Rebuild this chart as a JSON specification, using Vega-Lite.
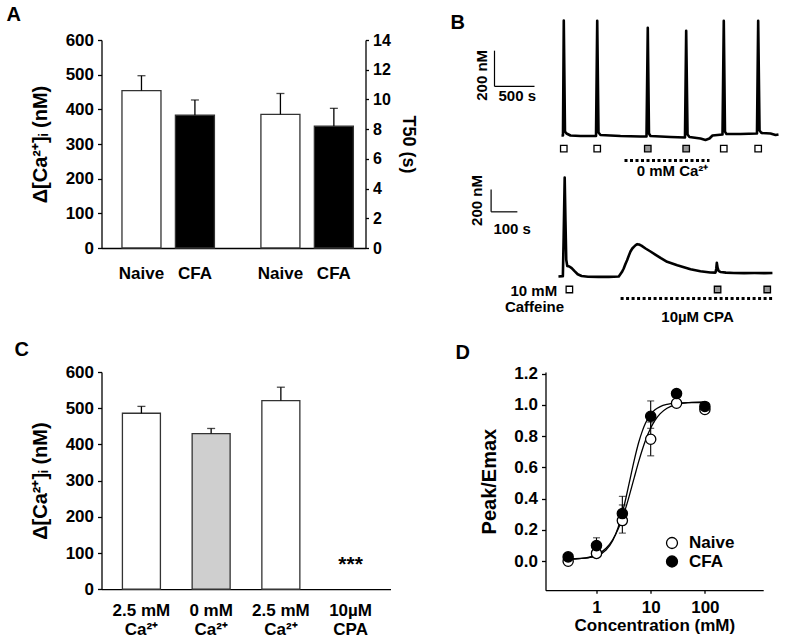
{
  "$schema": "https://vega.github.io/schema/vega-lite/v6.json",
  "background": "white",
  "padding": {"left": 6.5, "top": 5, "right": 5, "bottom": 5},
  "columns": 2,
  "bounds": "flush",
  "spacing": {"row": 124, "column": 155},
  "resolve": {"scale": {"fill": "independent"}, "legend": {"fill": "independent"}},
  "config": {
    "font": "Liberation Sans",
    "view": {"stroke": null},
    "axis": {
      "domainColor": "black", "domainWidth": 1.3, "tickColor": "black", "tickWidth": 1.3, "tickSize": 4,
      "labelColor": "black", "labelFont": "Liberation Sans", "labelFontWeight": "bold", "labelFontSize": 17, "labelPadding": 4,
      "titleColor": "black", "titleFont": "Liberation Sans", "titleFontWeight": "bold", "titleFontSize": 20,
      "grid": false
    },
    "title": {"fontSize": 20, "fontWeight": "bold", "font": "Liberation Sans", "color": "black", "anchor": "start", "frame": "group"},
    "legend": {"labelFont": "Liberation Sans"}
  },
  "concat": [
    {
      "width": 264, "height": 208,
      "title": {"text": "A", "dx": -95, "dy": -2},
      "data": {"values": [
        {"measure": "Ca", "group": "Naive", "value": 454, "upper": 497},
        {"measure": "Ca", "group": "CFA", "value": 383, "upper": 427},
        {"measure": "T50", "group": "Naive", "value": 9.0, "upper": 10.4},
        {"measure": "T50", "group": "CFA", "value": 8.2, "upper": 9.4}
      ]},
      "encoding": {
        "x": {"field": "measure", "type": "nominal", "sort": ["Ca", "T50"],
              "scale": {"paddingInner": 0.3, "paddingOuter": 0.1, "align": 0.65},
              "axis": {"labels": false, "ticks": false, "title": null}},
        "xOffset": {"field": "group", "type": "nominal", "sort": ["Naive", "CFA"],
                    "scale": {"paddingInner": 0.27, "paddingOuter": 0.045}}
      },
      "layer": [
        {
          "transform": [{"filter": "datum.measure === 'Ca'"}],
          "encoding": {
            "y": {"field": "value", "type": "quantitative", "title": "Δ[Ca²⁺]ᵢ (nM)",
                  "scale": {"domain": [0, 600]},
                  "axis": {"orient": "left", "values": [0, 100, 200, 300, 400, 500, 600], "titlePadding": 15}}
          },
          "layer": [
            {"mark": {"type": "bar", "stroke": "#333333", "strokeWidth": 1.3},
             "encoding": {"fill": {"field": "group", "type": "nominal", "scale": {"domain": ["Naive", "CFA"], "range": ["white", "black"]}, "legend": null}}},
            {"mark": {"type": "rule", "color": "black", "strokeWidth": 1.3},
             "encoding": {"y2": {"field": "upper"}}},
            {"mark": {"type": "tick", "color": "black", "orient": "horizontal", "size": 8, "thickness": 1.3},
             "encoding": {"y": {"field": "upper", "type": "quantitative", "title": "Δ[Ca²⁺]ᵢ (nM)"}}},
            {"mark": {"type": "text", "baseline": "top", "dy": 17.5, "fontSize": 17, "fontWeight": "bold", "font": "Liberation Sans", "color": "black"},
             "encoding": {"y": {"datum": 0}, "text": {"field": "group"}}}
          ]
        },
        {
          "transform": [{"filter": "datum.measure === 'T50'"}],
          "encoding": {
            "y": {"field": "value", "type": "quantitative", "title": "T50 (s)",
                  "scale": {"domain": [0, 14]},
                  "axis": {"orient": "right", "values": [0, 2, 4, 6, 8, 10, 12, 14], "labelFontSize": 16, "titleFontSize": 18, "tickSize": 3, "titlePadding": 8}}
          },
          "layer": [
            {"mark": {"type": "bar", "stroke": "#333333", "strokeWidth": 1.3},
             "encoding": {"fill": {"field": "group", "type": "nominal", "scale": {"domain": ["Naive", "CFA"], "range": ["white", "black"]}, "legend": null}}},
            {"mark": {"type": "rule", "color": "black", "strokeWidth": 1.3},
             "encoding": {"y2": {"field": "upper"}}},
            {"mark": {"type": "tick", "color": "black", "orient": "horizontal", "size": 8, "thickness": 1.3},
             "encoding": {"y": {"field": "upper", "type": "quantitative", "title": "T50 (s)"}}},
            {"mark": {"type": "text", "baseline": "top", "dy": 17.5, "fontSize": 17, "fontWeight": "bold", "font": "Liberation Sans", "color": "black"},
             "encoding": {"y": {"datum": 0}, "text": {"field": "group"}}}
          ]
        }
      ],
      "resolve": {"scale": {"y": "independent"}}
    },
    {
      "width": 233, "height": 208,
      "title": {"text": "B", "dx": -95, "dy": 18},
      "layer": [
        {
          "layer": [
            {"data": {"values": [
              {"t": 512, "v": 100}, {"t": 531, "v": 100}, {"t": 541, "v": 744}, {"t": 556, "v": 122}, {"t": 575, "v": 111},
              {"t": 625, "v": 100}, {"t": 750, "v": 97}, {"t": 944, "v": 97}, {"t": 959, "v": 742}, {"t": 975, "v": 117},
              {"t": 1000, "v": 103}, {"t": 1250, "v": 97}, {"t": 1500, "v": 94}, {"t": 1575, "v": 94}, {"t": 1591, "v": 703},
              {"t": 1606, "v": 111}, {"t": 1625, "v": 97}, {"t": 1875, "v": 92}, {"t": 2056, "v": 89}, {"t": 2071, "v": 686},
              {"t": 2088, "v": 106}, {"t": 2112, "v": 92}, {"t": 2250, "v": 83}, {"t": 2312, "v": 75}, {"t": 2362, "v": 83},
              {"t": 2400, "v": 100}, {"t": 2525, "v": 106}, {"t": 2541, "v": 742}, {"t": 2556, "v": 122}, {"t": 2575, "v": 108},
              {"t": 2750, "v": 108}, {"t": 2956, "v": 111}, {"t": 2971, "v": 742}, {"t": 2988, "v": 128}, {"t": 3012, "v": 114},
              {"t": 3125, "v": 111}, {"t": 3188, "v": 103}, {"t": 3225, "v": 106}
            ]},
             "mark": {"type": "line", "color": "black", "strokeWidth": 2.6, "strokeJoin": "round"},
             "encoding": {
               "x": {"field": "t", "type": "quantitative", "scale": {"domain": [312.5, 3225]}, "axis": null},
               "y": {"field": "v", "type": "quantitative", "scale": {"domain": [-530, 634.8]}, "axis": null}
             }},
            {"data": {"values": [
              {"x1": -325, "x2": -325, "y1": 375, "y2": 575},
              {"x1": -325, "x2": 175, "y1": 375, "y2": 375}
            ]},
             "mark": {"type": "rule", "color": "black", "strokeWidth": 1.2},
             "encoding": {
               "x": {"field": "x1", "type": "quantitative", "scale": {"domain": [312.5, 3225]}, "axis": null},
               "x2": {"field": "x2"},
               "y": {"field": "y1", "type": "quantitative", "scale": {"domain": [-530, 634.8]}, "axis": null},
               "y2": {"field": "y2"}
             }},
            {"data": {"values": [{"x1": 1300, "x2": 2362, "y1": -40}]},
             "mark": {"type": "rule", "color": "black", "strokeWidth": 3, "strokeDash": [3, 2.5]},
             "encoding": {
               "x": {"field": "x1", "type": "quantitative", "scale": {"domain": [312.5, 3225]}, "axis": null},
               "x2": {"field": "x2"},
               "y": {"field": "y1", "type": "quantitative", "scale": {"domain": [-530, 634.8]}, "axis": null}
             }},
            {"data": {"values": [
              {"t": 541, "v": 27, "sol": "normal"}, {"t": 959, "v": 27, "sol": "normal"},
              {"t": 1591, "v": 27, "sol": "zero"}, {"t": 2071, "v": 27, "sol": "zero"},
              {"t": 2541, "v": 27, "sol": "normal"}, {"t": 2971, "v": 27, "sol": "normal"}
            ]},
             "mark": {"type": "point", "shape": "square", "filled": true, "size": 42, "stroke": "black", "strokeWidth": 1.3, "opacity": 1},
             "encoding": {
               "x": {"field": "t", "type": "quantitative", "scale": {"domain": [312.5, 3225]}, "axis": null},
               "y": {"field": "v", "type": "quantitative", "scale": {"domain": [-530, 634.8]}, "axis": null},
               "fill": {"field": "sol", "type": "nominal", "scale": {"domain": ["normal", "zero"], "range": ["white", "#999999"]}, "legend": null}
             }},
            {"data": {"values": [
              {"t": -41, "v": 321, "label": "500 s"},
              {"t": 1900, "v": -101, "label": "0 mM Ca²⁺"}
            ]},
             "mark": {"type": "text", "fontSize": 15, "fontWeight": "bold", "font": "Liberation Sans", "color": "black", "baseline": "middle", "align": "center"},
             "encoding": {
               "x": {"field": "t", "type": "quantitative", "scale": {"domain": [312.5, 3225]}, "axis": null},
               "y": {"field": "v", "type": "quantitative", "scale": {"domain": [-530, 634.8]}, "axis": null},
               "text": {"field": "label"}
             }},
            {"data": {"values": [{"t": -487, "v": 437, "label": "200 nM"}]},
             "mark": {"type": "text", "angle": 270, "fontSize": 15, "fontWeight": "bold", "font": "Liberation Sans", "color": "black", "baseline": "middle", "align": "center"},
             "encoding": {
               "x": {"field": "t", "type": "quantitative", "scale": {"domain": [312.5, 3225]}, "axis": null},
               "y": {"field": "v", "type": "quantitative", "scale": {"domain": [-530, 634.8]}, "axis": null},
               "text": {"field": "label"}
             }}
          ]
        },
        {
          "layer": [
            {"data": {"values": [
              {"t": 146, "v": 100}, {"t": 163, "v": 103}, {"t": 166, "v": 450}, {"t": 170, "v": 991}, {"t": 173, "v": 600},
              {"t": 176, "v": 250}, {"t": 180, "v": 195}, {"t": 188, "v": 190}, {"t": 197, "v": 175}, {"t": 207, "v": 150},
              {"t": 220, "v": 120}, {"t": 235, "v": 105}, {"t": 260, "v": 98}, {"t": 300, "v": 97}, {"t": 340, "v": 97},
              {"t": 378, "v": 100}, {"t": 390, "v": 140}, {"t": 397, "v": 172}, {"t": 404, "v": 215}, {"t": 410, "v": 247},
              {"t": 417, "v": 290}, {"t": 423, "v": 325}, {"t": 430, "v": 352}, {"t": 436, "v": 367}, {"t": 443, "v": 383},
              {"t": 449, "v": 391}, {"t": 456, "v": 388}, {"t": 465, "v": 378}, {"t": 481, "v": 352}, {"t": 500, "v": 325},
              {"t": 520, "v": 295}, {"t": 540, "v": 265}, {"t": 564, "v": 232}, {"t": 603, "v": 202}, {"t": 654, "v": 166},
              {"t": 692, "v": 148}, {"t": 730, "v": 136}, {"t": 750, "v": 135}, {"t": 753, "v": 170}, {"t": 755, "v": 223},
              {"t": 758, "v": 180}, {"t": 762, "v": 150}, {"t": 770, "v": 140}, {"t": 790, "v": 135}, {"t": 820, "v": 132},
              {"t": 860, "v": 130}, {"t": 900, "v": 131}, {"t": 940, "v": 130}, {"t": 969, "v": 132}
            ]},
             "mark": {"type": "line", "color": "black", "strokeWidth": 2.6, "strokeJoin": "round"},
             "encoding": {
               "x": {"field": "t", "type": "quantitative", "scale": {"domain": [96.2, 992.3]}, "axis": null},
               "y": {"field": "v", "type": "quantitative", "scale": {"domain": [356.5, 2228.5]}, "axis": null}
             }},
            {"data": {"values": [
              {"x1": -113, "x2": -113, "y1": 682, "y2": 883},
              {"x1": -113, "x2": -12, "y1": 682, "y2": 682}
            ]},
             "mark": {"type": "rule", "color": "black", "strokeWidth": 1.2},
             "encoding": {
               "x": {"field": "x1", "type": "quantitative", "scale": {"domain": [96.2, 992.3]}, "axis": null},
               "x2": {"field": "x2"},
               "y": {"field": "y1", "type": "quantitative", "scale": {"domain": [356.5, 2228.5]}, "axis": null},
               "y2": {"field": "y2"}
             }},
            {"data": {"values": [{"x1": 385, "x2": 974, "y1": -98}]},
             "mark": {"type": "rule", "color": "black", "strokeWidth": 3, "strokeDash": [3, 2.5]},
             "encoding": {
               "x": {"field": "x1", "type": "quantitative", "scale": {"domain": [96.2, 992.3]}, "axis": null},
               "x2": {"field": "x2"},
               "y": {"field": "y1", "type": "quantitative", "scale": {"domain": [356.5, 2228.5]}, "axis": null}
             }},
            {"data": {"values": [
              {"t": 188, "v": -17, "sol": "normal"},
              {"t": 758, "v": -17, "sol": "zero"},
              {"t": 949, "v": -17, "sol": "zero"}
            ]},
             "mark": {"type": "point", "shape": "square", "filled": true, "size": 42, "stroke": "black", "strokeWidth": 1.3, "opacity": 1},
             "encoding": {
               "x": {"field": "t", "type": "quantitative", "scale": {"domain": [96.2, 992.3]}, "axis": null},
               "y": {"field": "v", "type": "quantitative", "scale": {"domain": [356.5, 2228.5]}, "axis": null},
               "fill": {"field": "sol", "type": "nominal", "scale": {"domain": ["normal", "zero"], "range": ["white", "#999999"]}, "legend": null}
             }},
            {"data": {"values": [
              {"t": -32, "v": 532, "label": "100 s"},
              {"t": 54, "v": -170, "label": "Caffeine"},
              {"t": 681, "v": -260, "label": "10µM CPA"}
            ]},
             "mark": {"type": "text", "fontSize": 15, "fontWeight": "bold", "font": "Liberation Sans", "color": "black", "baseline": "middle", "align": "center"},
             "encoding": {
               "x": {"field": "t", "type": "quantitative", "scale": {"domain": [96.2, 992.3]}, "axis": null},
               "y": {"field": "v", "type": "quantitative", "scale": {"domain": [356.5, 2228.5]}, "axis": null},
               "text": {"field": "label"}
             }},
            {"data": {"values": [{"t": 141, "v": -26, "label": "10 mM"}]},
             "mark": {"type": "text", "fontSize": 15, "fontWeight": "bold", "font": "Liberation Sans", "color": "black", "baseline": "middle", "align": "right"},
             "encoding": {
               "x": {"field": "t", "type": "quantitative", "scale": {"domain": [96.2, 992.3]}, "axis": null},
               "y": {"field": "v", "type": "quantitative", "scale": {"domain": [356.5, 2228.5]}, "axis": null},
               "text": {"field": "label"}
             }},
            {"data": {"values": [{"t": -169, "v": 784, "label": "200 nM"}]},
             "mark": {"type": "text", "angle": 270, "fontSize": 15, "fontWeight": "bold", "font": "Liberation Sans", "color": "black", "baseline": "middle", "align": "center"},
             "encoding": {
               "x": {"field": "t", "type": "quantitative", "scale": {"domain": [96.2, 992.3]}, "axis": null},
               "y": {"field": "v", "type": "quantitative", "scale": {"domain": [356.5, 2228.5]}, "axis": null},
               "text": {"field": "label"}
             }}
          ]
        }
      ],
      "resolve": {"scale": {"x": "independent", "y": "independent"}}
    },
    {
      "width": 289, "height": 217.2,
      "title": {"text": "C", "dx": -87, "dy": 1},
      "data": {"values": [
        {"cond": "2.5 mM|Ca²⁺", "value": 486, "upper": 505, "sol": "normal"},
        {"cond": "0 mM|Ca²⁺", "value": 430, "upper": 444, "sol": "zero"},
        {"cond": "2.5 mM |Ca²⁺", "value": 521, "upper": 558, "sol": "normal"},
        {"cond": "10µM|CPA", "value": 0, "upper": null, "sol": "cpa", "sig": "***"}
      ]},
      "encoding": {
        "x": {"field": "cond", "type": "nominal", "sort": null,
              "scale": {"paddingInner": 0.455, "paddingOuter": 0.3},
              "axis": {"labelExpr": "split(datum.label, '|')", "labelAngle": 0, "ticks": false, "title": null, "labelPadding": 13, "labelLineHeight": 19, "labelBaseline": "top"}},
        "y": {"field": "value", "type": "quantitative", "title": "Δ[Ca²⁺]ᵢ (nM)",
              "scale": {"domain": [0, 600]},
              "axis": {"values": [0, 100, 200, 300, 400, 500, 600], "titlePadding": 15}}
      },
      "layer": [
        {"transform": [{"filter": "datum.value > 0"}],
         "mark": {"type": "bar", "stroke": "#333333", "strokeWidth": 1.3},
         "encoding": {"fill": {"field": "sol", "type": "nominal", "scale": {"domain": ["normal", "zero"], "range": ["white", "#cfcfcf"]}, "legend": null}}},
        {"transform": [{"filter": "datum.upper != null"}],
         "mark": {"type": "rule", "color": "black", "strokeWidth": 1.3},
         "encoding": {"y2": {"field": "upper"}}},
        {"transform": [{"filter": "datum.upper != null"}],
         "mark": {"type": "tick", "color": "black", "orient": "horizontal", "size": 8, "thickness": 1.3},
         "encoding": {"y": {"field": "upper", "type": "quantitative", "title": "Δ[Ca²⁺]ᵢ (nM)"}}},
        {"transform": [{"filter": "datum.sig != null"}],
         "mark": {"type": "text", "fontSize": 21, "fontWeight": "bold", "font": "Liberation Sans", "color": "black", "baseline": "middle", "align": "center"},
         "encoding": {"y": {"datum": 66}, "text": {"field": "sig"}}}
      ]
    },
    {
      "width": 217.7, "height": 218.2,
      "title": {"text": "D", "dx": -90, "dy": 2.5},
      "encoding": {
        "x": {"field": "conc", "type": "quantitative", "title": "Concentration (mM)",
              "scale": {"type": "log", "domain": [0.1146, 1191]},
              "axis": {"values": [1, 10, 100], "format": "d", "tickSize": 3, "titleFontSize": 17, "labelPadding": 6.5, "titlePadding": 1.5}},
        "y": {"field": "resp", "type": "quantitative", "title": "Peak/Emax",
              "scale": {"domain": [-0.185, 1.21]},
              "axis": {"values": [0, 0.2, 0.4, 0.6, 0.8, 1.0, 1.2], "format": ".1f", "titlePadding": 14}}
      },
      "layer": [
        {"data": {"values": [
          {"conc": 0.3, "resp": 0.012, "group": "Naive"}, {"conc": 0.5, "resp": 0.017, "group": "Naive"}, {"conc": 0.7, "resp": 0.024, "group": "Naive"},
          {"conc": 1, "resp": 0.041, "group": "Naive"}, {"conc": 1.5, "resp": 0.083, "group": "Naive"}, {"conc": 2, "resp": 0.139, "group": "Naive"},
          {"conc": 2.5, "resp": 0.204, "group": "Naive"}, {"conc": 3, "resp": 0.275, "group": "Naive"}, {"conc": 3.5, "resp": 0.346, "group": "Naive"},
          {"conc": 4, "resp": 0.415, "group": "Naive"}, {"conc": 5, "resp": 0.538, "group": "Naive"}, {"conc": 6, "resp": 0.637, "group": "Naive"},
          {"conc": 7, "resp": 0.713, "group": "Naive"}, {"conc": 8, "resp": 0.772, "group": "Naive"}, {"conc": 10, "resp": 0.852, "group": "Naive"},
          {"conc": 12, "resp": 0.901, "group": "Naive"}, {"conc": 15, "resp": 0.944, "group": "Naive"}, {"conc": 20, "resp": 0.978, "group": "Naive"},
          {"conc": 30, "resp": 1.002, "group": "Naive"}, {"conc": 50, "resp": 1.014, "group": "Naive"}, {"conc": 100, "resp": 1.019, "group": "Naive"},
          {"conc": 0.3, "resp": 0.016, "group": "CFA"}, {"conc": 0.5, "resp": 0.018, "group": "CFA"}, {"conc": 0.7, "resp": 0.022, "group": "CFA"},
          {"conc": 1, "resp": 0.034, "group": "CFA"}, {"conc": 1.5, "resp": 0.072, "group": "CFA"}, {"conc": 2, "resp": 0.133, "group": "CFA"},
          {"conc": 2.5, "resp": 0.215, "group": "CFA"}, {"conc": 3, "resp": 0.309, "group": "CFA"}, {"conc": 3.5, "resp": 0.406, "group": "CFA"},
          {"conc": 4, "resp": 0.498, "group": "CFA"}, {"conc": 5, "resp": 0.65, "group": "CFA"}, {"conc": 6, "resp": 0.759, "group": "CFA"},
          {"conc": 7, "resp": 0.832, "group": "CFA"}, {"conc": 8, "resp": 0.882, "group": "CFA"}, {"conc": 10, "resp": 0.939, "group": "CFA"},
          {"conc": 12, "resp": 0.968, "group": "CFA"}, {"conc": 15, "resp": 0.989, "group": "CFA"}, {"conc": 20, "resp": 1.003, "group": "CFA"},
          {"conc": 30, "resp": 1.011, "group": "CFA"}, {"conc": 50, "resp": 1.014, "group": "CFA"}, {"conc": 100, "resp": 1.015, "group": "CFA"}
        ]},
         "mark": {"type": "line", "color": "black", "strokeWidth": 1.3, "interpolate": "monotone"},
         "encoding": {"detail": {"field": "group"}}},
        {"data": {"name": "errD", "values": [
          {"conc": 1, "lo": 0.03, "hi": 0.07, "group": "Naive"},
          {"conc": 1, "lo": 0.06, "hi": 0.15, "group": "CFA"},
          {"conc": 3, "lo": 0.18, "hi": 0.415, "group": "Naive"},
          {"conc": 3, "lo": 0.25, "hi": 0.36, "group": "CFA"},
          {"conc": 10, "lo": 0.674, "hi": 0.89, "group": "Naive"},
          {"conc": 10, "lo": 0.85, "hi": 1.025, "group": "CFA"}
        ]},
         "mark": {"type": "rule", "color": "black", "strokeWidth": 1.1},
         "encoding": {"y": {"field": "lo", "type": "quantitative"}, "y2": {"field": "hi"}}},
        {"data": {"name": "errD"},
         "mark": {"type": "tick", "color": "black", "orient": "horizontal", "size": 7, "thickness": 1.1},
         "encoding": {"y": {"field": "hi", "type": "quantitative"}}},
        {"data": {"name": "errD"},
         "mark": {"type": "tick", "color": "black", "orient": "horizontal", "size": 7, "thickness": 1.1},
         "encoding": {"y": {"field": "lo", "type": "quantitative"}}},
        {"data": {"values": [
          {"conc": 0.3, "resp": 0.0, "group": "Naive"}, {"conc": 1, "resp": 0.05, "group": "Naive"}, {"conc": 3, "resp": 0.26, "group": "Naive"},
          {"conc": 10, "resp": 0.78, "group": "Naive"}, {"conc": 30, "resp": 1.01, "group": "Naive"}, {"conc": 100, "resp": 0.97, "group": "Naive"},
          {"conc": 0.3, "resp": 0.028, "group": "CFA"}, {"conc": 1, "resp": 0.10, "group": "CFA"}, {"conc": 3, "resp": 0.305, "group": "CFA"},
          {"conc": 10, "resp": 0.927, "group": "CFA"}, {"conc": 30, "resp": 1.072, "group": "CFA"}, {"conc": 100, "resp": 0.99, "group": "CFA"}
        ]},
         "mark": {"type": "point", "shape": "circle", "filled": true, "size": 105, "stroke": "black", "strokeWidth": 1.3, "opacity": 1},
         "encoding": {
           "fill": {"field": "group", "type": "nominal", "sort": ["Naive", "CFA"],
                    "scale": {"domain": ["Naive", "CFA"], "range": ["white", "black"]},
                    "legend": {"title": null, "orient": "none", "legendX": 118, "legendY": 162.5, "padding": 0,
                               "labelFontSize": 17, "labelFontWeight": "bold", "labelColor": "black", "labelOffset": 8.5,
                               "symbolType": "circle", "symbolSize": 120, "symbolStrokeColor": "black", "symbolStrokeWidth": 1.3,
                               "rowPadding": 0.5}}
         }}
      ]
    }
  ]
}
